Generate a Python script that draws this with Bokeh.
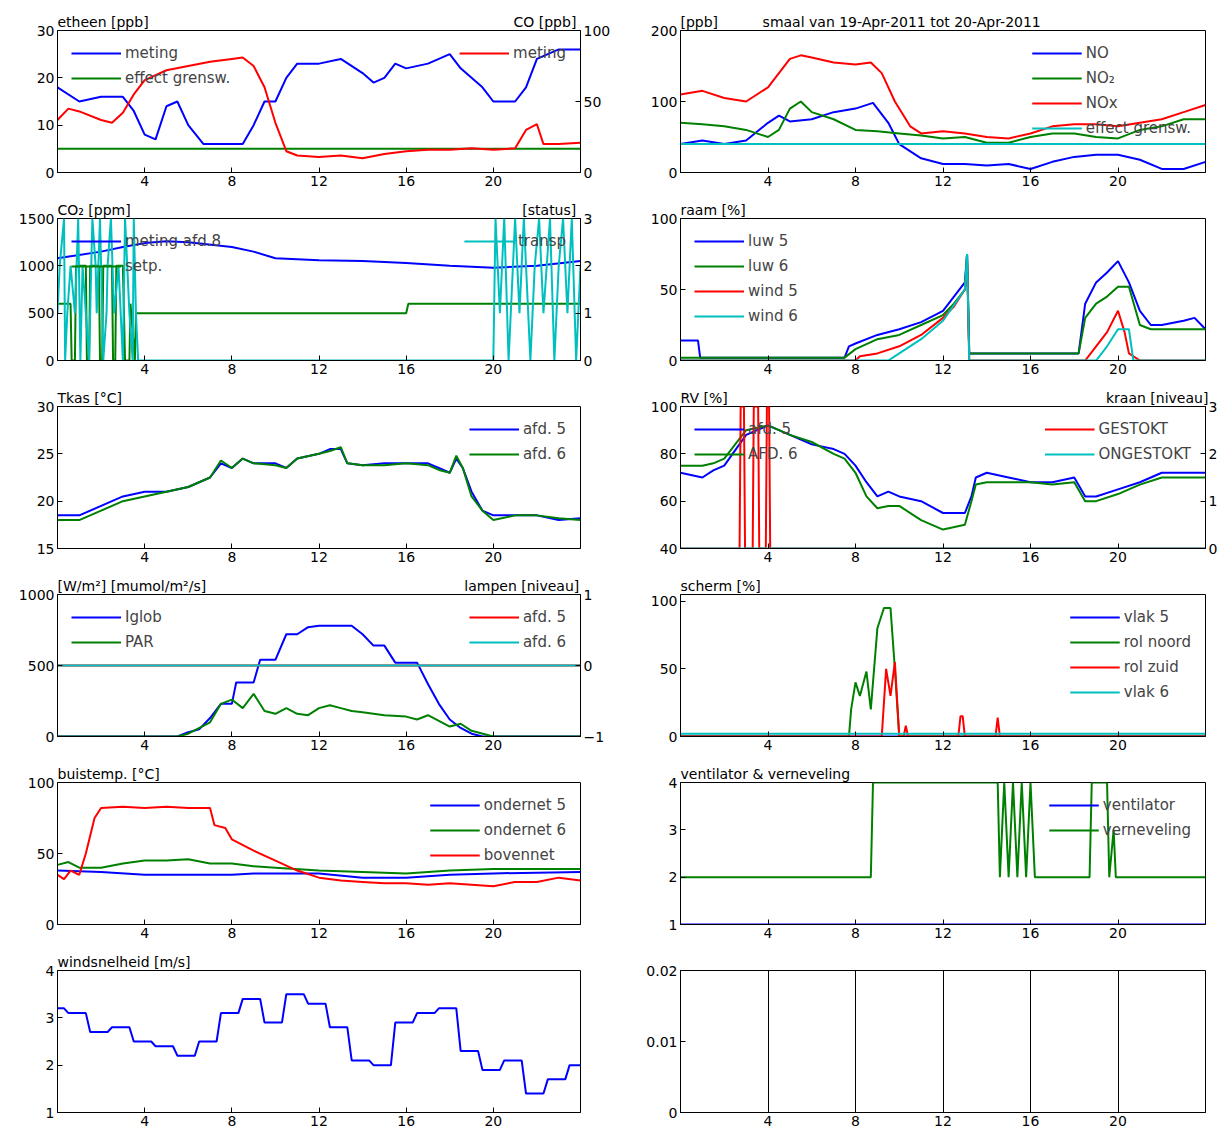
from bokeh.plotting import figure
from bokeh.models import (Range1d, LinearAxis, FixedTicker, Legend, LegendItem, Title)
from bokeh.layouts import gridplot
from bokeh.embed import file_html
from bokeh.resources import INLINE

FONT = "DejaVu Sans"
B, G, R, C = "#0000ff", "#008000", "#ff0000", "#00bfbf"

# ---------- data ----------
eth_t = [0, 1, 2, 3, 3.5, 4, 4.5, 5, 5.5, 6, 6.7, 8.5, 9, 9.5, 10, 10.5, 11, 12, 13, 14, 14.5, 15, 15.5, 16, 17, 18, 18.5, 19, 19.5, 20, 21, 21.5, 22, 23, 24]
eth_v = [18, 15, 16, 16, 13, 8, 7, 14, 15, 10, 6, 6, 10, 15, 15, 20, 23, 23, 24, 21, 19, 20, 23, 22, 23, 25, 22, 20, 18, 15, 15, 18, 24, 26, 26]
eth_lim = [5, 5]
co_t = [0, 0.5, 1, 2, 2.5, 3, 3.5, 4, 5, 6, 7, 8, 8.5, 9, 9.5, 10, 10.5, 11, 12, 13, 14, 15, 16, 17, 18, 19, 20, 21, 21.5, 22, 22.3, 23, 24]
co_v = [37, 45, 43, 37, 35, 42, 55, 65, 72, 75, 78, 80, 81, 75, 60, 35, 15, 12, 11, 12, 10, 13, 15, 16, 16, 17, 16, 17, 30, 34, 20, 20, 21]

no_t = [0, 1, 2, 3, 4, 4.5, 5, 6, 7, 8, 8.8, 9.5, 10, 11, 12, 13, 14, 15, 16, 17, 18, 19, 20, 21, 22, 23, 24]
no_v = [40, 45, 40, 45, 70, 80, 72, 75, 85, 90, 98, 70, 40, 20, 12, 12, 10, 12, 5, 15, 22, 25, 25, 18, 5, 5, 15]
no2_t = [0, 1, 2, 3, 4, 4.5, 5, 5.5, 6, 7, 8, 9, 10, 11, 12, 13, 14, 15, 16, 17, 18, 19, 20, 21, 22, 23, 24]
no2_v = [70, 68, 65, 60, 50, 60, 90, 100, 85, 75, 60, 58, 55, 52, 48, 50, 42, 42, 50, 55, 55, 50, 48, 60, 65, 75, 75]
nox_t = [0, 1, 2, 3, 4, 4.5, 5, 5.5, 6, 7, 8, 8.7, 9.2, 9.8, 10.5, 11, 12, 13, 14, 15, 16, 17, 18, 19, 20, 21, 22, 23, 24]
nox_v = [110, 115, 105, 100, 120, 140, 160, 165, 162, 155, 152, 155, 140, 100, 65, 55, 58, 55, 50, 48, 55, 65, 68, 68, 65, 70, 75, 85, 95]
no_lim = [40, 40]

co2_t = [0, 2, 3, 4, 5, 6, 8, 9, 10, 12, 14, 16, 18, 20, 22, 24]
co2_v = [1080, 1150, 1200, 1240, 1260, 1250, 1200, 1150, 1080, 1060, 1050, 1030, 1000, 980, 1000, 1050]
setp_t = [0, 0.6, 0.65, 0.8, 0.85, 1.3, 1.35, 1.45, 1.5, 1.9, 1.95, 2.05, 2.1, 2.5, 2.55, 2.65, 2.7, 3.0, 3.1, 3.3, 3.35, 3.55, 3.6, 16.0, 16.1, 24]
setp_v = [600, 600, 0, 0, 1000, 1000, 0, 0, 1000, 1000, 0, 0, 1000, 1000, 0, 0, 1000, 1000, 0, 0, 600, 0, 500, 500, 600, 600]
tr_t = [0, 0.1, 0.3, 0.35, 0.45, 0.6, 0.8, 0.95, 1.05, 1.15, 1.3, 1.45, 1.6, 1.75, 1.8, 1.95, 2.1, 2.25, 2.3, 2.45, 2.6, 2.8, 3.0, 3.1, 3.3, 3.45, 3.5, 3.6, 3.7,
        20.0, 20.1, 20.3, 20.5, 20.7, 20.9, 21.0, 21.2, 21.4, 21.7, 21.9, 22.1, 22.3, 22.6, 22.8, 23.0, 23.2, 23.4, 23.6, 23.8, 24]
tr_v = [1, 2, 3, 0, 1, 2, 1, 3, 0, 2, 1, 0, 3, 2, 1, 3, 0, 1, 2, 3, 1, 2, 0, 3, 1, 0, 3, 1, 0,
        0, 3, 1, 3, 0, 2, 3, 1, 3, 0, 2, 3, 1, 3, 0, 2, 3, 1, 3, 0, 2]

luw5_t = [0, 0.8, 0.9, 7.5, 7.7, 8, 9, 10, 11, 12, 12.5, 13, 13.1, 13.2, 18.2, 18.5, 19, 19.5, 20, 20.5, 21, 21.5, 22, 23, 23.5, 24]
luw5_v = [14, 14, 2, 2, 10, 12, 18, 22, 27, 35, 45, 55, 75, 5, 5, 40, 55, 62, 70, 55, 35, 25, 25, 28, 30, 22]
luw6_t = [0, 7.5, 8, 9, 10, 11, 12, 12.5, 13, 13.1, 13.2, 18.2, 18.5, 19, 19.5, 20, 20.5, 21, 21.5, 24]
luw6_v = [2, 2, 8, 15, 18, 25, 32, 40, 50, 75, 5, 5, 30, 40, 45, 52, 52, 25, 22, 22]
wind5_t = [0, 8, 8.2, 9, 10, 11, 12, 12.5, 13, 13.1, 13.2, 18.5, 19, 19.5, 20, 20.3, 20.5, 21, 24]
wind5_v = [0, 0, 3, 5, 10, 18, 30, 38, 50, 70, 0, 0, 10, 20, 35, 20, 5, 0, 0]
wind6_t = [0, 9.5, 10, 11, 12, 13, 13.1, 13.2, 19, 19.5, 20, 20.5, 20.7, 24]
wind6_v = [0, 0, 5, 15, 28, 50, 75, 0, 0, 10, 22, 22, 0, 0]

tk_t = [0, 1, 2, 3, 4, 5, 6, 7, 7.5, 8, 8.5, 9, 10, 10.5, 11, 12, 12.5, 13, 13.3, 14, 15, 16, 17, 17.5, 18, 18.3, 18.6, 19, 19.5, 20, 21, 22, 23, 24]
tk5_v = [18.5, 18.5, 19.5, 20.5, 21, 21, 21.5, 22.5, 24, 23.5, 24.5, 24, 24, 23.5, 24.5, 25, 25.5, 25.5, 24, 23.8, 24, 24, 24, 23.5, 23, 24.5, 23.5, 21, 19, 18.5, 18.5, 18.5, 18, 18.2]
tk6_v = [18, 18, 19, 20, 20.5, 21, 21.5, 22.5, 24.3, 23.5, 24.5, 24, 23.8, 23.5, 24.5, 25, 25.3, 25.7, 24, 23.8, 23.8, 24, 23.8, 23.3, 23, 24.8, 23.5, 20.5, 19, 18, 18.5, 18.5, 18.2, 18]

rv_t = [0, 1, 1.5, 2, 3, 4, 5, 6, 7, 7.5, 8, 8.5, 9, 9.5, 10, 11, 12, 13, 13.3, 13.5, 14, 15, 16, 17, 18, 18.5, 19, 20, 21, 22, 23, 24]
rv5_v = [72, 70, 73, 75, 88, 92, 88, 84, 82, 80, 75, 68, 62, 64, 62, 60, 55, 55, 62, 70, 72, 70, 68, 68, 70, 62, 62, 65, 68, 72, 72, 72]
rv6_v = [75, 75, 76, 78, 90, 92, 88, 85, 80, 78, 72, 62, 57, 58, 58, 52, 48, 50, 60, 67, 68, 68, 68, 67, 68, 60, 60, 63, 67, 70, 70, 70]
gest_t = [0, 2.7, 2.75, 2.9, 2.95, 3.3, 3.35, 3.55, 3.6, 3.9, 3.95, 4.05, 4.1, 24]
gest_v = [0, 0, 3, 3, 0, 0, 3, 3, 0, 0, 3, 3, 0, 0]
onge_v = [0, 0]

ig_t = [0, 5.5, 6, 6.5, 7, 7.5, 8, 8.2, 9, 9.3, 10, 10.5, 11, 11.5, 12, 13.5, 14, 14.5, 15, 15.5, 16.5, 17, 17.5, 18, 18.5, 19, 19.5, 24]
ig_v = [0, 0, 30, 50, 130, 230, 230, 380, 380, 540, 540, 720, 720, 770, 780, 780, 720, 640, 640, 520, 520, 370, 230, 120, 60, 20, 0, 0]
par_t = [0, 5.5, 6, 7, 7.5, 8, 8.5, 9, 9.5, 10, 10.5, 11, 11.5, 12, 12.5, 13, 13.5, 14, 15, 16, 16.5, 17, 18, 18.5, 19, 20, 24]
par_v = [0, 0, 20, 100, 230, 260, 200, 300, 180, 160, 200, 160, 150, 200, 220, 200, 180, 170, 150, 140, 120, 150, 70, 90, 40, 0, 0]
lamp_v = [0, 0]

noord_t = [0, 7.7, 7.8, 8, 8.2, 8.5, 8.7, 9, 9.3, 9.6, 9.8, 10, 24]
noord_v = [0, 0, 20, 40, 30, 48, 20, 80, 95, 95, 50, 0, 0]
zuid_t = [0, 9.2, 9.4, 9.6, 9.8, 10, 10.2, 10.3, 10.4, 12.7, 12.8, 12.9, 13, 14.4, 14.5, 14.6, 24]
zuid_v = [0, 0, 50, 30, 55, 0, 0, 8, 0, 0, 15, 15, 0, 0, 14, 0, 0]
vlak5_v = [0, 0]
vlak6_v = [2, 2]

bu_t = [0, 0.3, 0.6, 1, 1.3, 1.7, 2, 3, 4, 5, 6, 7, 7.2, 7.7, 8, 9, 10, 11, 12, 13, 14, 15, 16, 17, 18, 19, 20, 21, 22, 23, 24]
bov_v = [35, 32, 38, 35, 50, 75, 82, 83, 82, 83, 82, 82, 70, 68, 60, 52, 45, 38, 33, 31, 30, 29, 29, 28, 29, 28, 27, 30, 30, 33, 31]
on5_t = [0, 2, 4, 8, 9, 12, 14, 16, 18, 20, 24]
on5_v = [38, 37, 35, 35, 36, 36, 33, 33, 35, 36, 37]
on6_t = [0, 0.5, 1, 2, 3, 4, 5, 6, 7, 8, 9, 10, 12, 14, 16, 18, 20, 24]
on6_v = [42, 44, 40, 40, 43, 45, 45, 46, 43, 43, 41, 40, 38, 37, 36, 38, 39, 39]

vent_v = [1, 1]
vern_t = [0, 8.7, 8.8, 14.5, 14.6, 14.8, 15, 15.2, 15.4, 15.6, 15.8, 16, 16.2, 18.7, 18.8, 19.5, 19.6, 19.8, 19.9, 24]
vern_v = [2, 2, 4, 4, 2, 4, 2, 4, 2, 4, 2, 4, 2, 2, 4, 4, 2, 3, 2, 2]

ws_t = [0, 0.3, 0.5, 1.3, 1.5, 2.3, 2.5, 3.3, 3.5, 4.3, 4.5, 5.3, 5.5, 6.3, 6.5, 7.3, 7.5, 8.3, 8.5, 9.3, 9.5, 10.3, 10.5, 11.3, 11.5, 12.3, 12.5, 13.3, 13.5, 14.3, 14.5, 15.3, 15.5, 16.3, 16.5, 17.3, 17.5, 18.3, 18.5, 19.3, 19.5, 20.3, 20.5, 21.3, 21.5, 22.3, 22.5, 23.3, 23.5, 24]
ws_v = [3.2, 3.2, 3.1, 3.1, 2.7, 2.7, 2.8, 2.8, 2.5, 2.5, 2.4, 2.4, 2.2, 2.2, 2.5, 2.5, 3.1, 3.1, 3.4, 3.4, 2.9, 2.9, 3.5, 3.5, 3.3, 3.3, 2.8, 2.8, 2.1, 2.1, 2.0, 2.0, 2.9, 2.9, 3.1, 3.1, 3.2, 3.2, 2.3, 2.3, 1.9, 1.9, 2.1, 2.1, 1.4, 1.4, 1.7, 1.7, 2.0, 2.0]

XT = [4, 8, 12, 16, 20]
FULL = [0, 24]

# approximate DejaVu Sans advance widths (em)
CW = {' ': .318, '[': .39, ']': .39, 'a': .613, 'b': .635, 'c': .55, 'd': .635, 'e': .615, 'f': .352,
      'g': .635, 'h': .634, 'i': .278, 'k': .579, 'l': .278, 'm': .974, 'n': .634, 'o': .612,
      'p': .635, 'r': .411, 's': .521, 't': .392, 'u': .634, 'v': .592, 'w': .818, 'C': .698,
      'O': .787, '.': .318, '/': .337, '²': .401, '₂': .401, '°': .5, 'T': .611, 'W': .989,
      'R': .695, 'V': .684, 'S': .635}


def tw(s):
    return sum(CW.get(ch, .636) for ch in s) * 14


def pad_title(left, right, width):
    n = max(1, int(round((width - tw(left) - tw(right)) / (0.318 * 14))))
    return left + "\u00a0" * n + right


def style_axis(ax):
    ax.major_tick_in = 5
    ax.major_tick_out = 0
    ax.minor_tick_line_color = None
    ax.axis_line_color = "black"
    ax.major_label_text_font = FONT
    ax.major_label_text_font_size = "14px"
    ax.major_label_text_color = "black"
    ax.major_label_standoff = 3


def make(col, rowi, yr, yticks, left_t, right_t=None, right=None, rticks=None):
    top = 30 if rowi == 0 else 22
    fw = 523 if col == 0 else 525
    if col == 0:
        p = figure(frame_width=fw, frame_height=142, min_border_left=57, min_border_right=36,
                   min_border_top=top, min_border_bottom=24, output_backend="svg", toolbar_location=None,
                   x_range=Range1d(0, 24), y_range=Range1d(*yr))
    else:
        p = figure(frame_width=fw, frame_height=142, min_border_left=64, min_border_right=14,
                   min_border_top=top, min_border_bottom=24, output_backend="svg", toolbar_location=None,
                   x_range=Range1d(0, 24), y_range=Range1d(*yr))
    p.xgrid.visible = False
    p.ygrid.visible = False
    p.outline_line_color = "black"
    p.outline_line_alpha = 1
    p.xaxis.ticker = FixedTicker(ticks=XT)
    p.yaxis.ticker = FixedTicker(ticks=yticks)
    for ax in p.xaxis + p.yaxis:
        style_axis(ax)
    if right is not None:
        p.extra_y_ranges = {"r": Range1d(*right)}
        ax = LinearAxis(y_range_name="r", ticker=FixedTicker(ticks=rticks))
        style_axis(ax)
        p.add_layout(ax, "right")
    if left_t:
        txt = pad_title(left_t, right_t, fw - 2) if right_t else left_t
        p.title = Title(text=txt, align="left", text_font=FONT, text_font_size="14px",
                        text_font_style="normal", text_color="black", standoff=1)
    return p


def legend(p, items, loc):
    lg = Legend(items=[LegendItem(label=l, renderers=[r]) for l, r in items], location=loc,
                background_fill_alpha=0, border_line_alpha=0, label_text_font=FONT,
                label_text_font_size="15px", glyph_width=50, glyph_height=18, label_standoff=4,
                spacing=7, margin=6, padding=8, label_height=18)
    p.add_layout(lg)


def ln(p, x, y, c, rng=None):
    if rng:
        return p.line(x, y, line_color=c, line_width=2, y_range_name=rng)
    return p.line(x, y, line_color=c, line_width=2)


p1 = make(0, 0, (0, 30), [0, 10, 20, 30], "etheen [ppb]", "CO [ppb]", (0, 100), [0, 50, 100])
a = ln(p1, eth_t, eth_v, B); b = ln(p1, FULL, eth_lim, G); c = ln(p1, co_t, co_v, R, "r")
legend(p1, [("meting", a), ("effect grensw.", b)], "top_left")
legend(p1, [("meting", c)], "top_right")

p2 = make(1, 0, (0, 200), [0, 100, 200], "[ppb]" + "\u00a0" * 10 + "smaal van 19-Apr-2011 tot 20-Apr-2011")
a = ln(p2, no_t, no_v, B); b = ln(p2, no2_t, no2_v, G); c = ln(p2, nox_t, nox_v, R); d = ln(p2, FULL, no_lim, C)
legend(p2, [("NO", a), ("NO₂", b), ("NOx", c), ("effect grensw.", d)], "top_right")

p3 = make(0, 1, (0, 1500), [0, 500, 1000, 1500], "CO₂ [ppm]", "[status]", (0, 3), [0, 1, 2, 3])
a = ln(p3, co2_t, co2_v, B); b = ln(p3, setp_t, setp_v, G); c = ln(p3, tr_t, tr_v, C, "r")
legend(p3, [("meting afd.8", a), ("setp.", b)], "top_left")
legend(p3, [("transp", c)], "top_right")

p4 = make(1, 1, (0, 100), [0, 50, 100], "raam [%]")
a = ln(p4, luw5_t, luw5_v, B); b = ln(p4, luw6_t, luw6_v, G); c = ln(p4, wind5_t, wind5_v, R); d = ln(p4, wind6_t, wind6_v, C)
legend(p4, [("luw 5", a), ("luw 6", b), ("wind 5", c), ("wind 6", d)], "top_left")

p5 = make(0, 2, (15, 30), [15, 20, 25, 30], "Tkas [°C]")
a = ln(p5, tk_t, tk5_v, B); b = ln(p5, tk_t, tk6_v, G)
legend(p5, [("afd. 5", a), ("afd. 6", b)], "top_right")

p6 = make(1, 2, (40, 100), [40, 60, 80, 100], "RV [%]", "kraan [niveau]", (0, 3), [0, 1, 2, 3])
a = ln(p6, rv_t, rv5_v, B); b = ln(p6, rv_t, rv6_v, G); c = ln(p6, gest_t, gest_v, R, "r"); d = ln(p6, FULL, onge_v, C, "r")
legend(p6, [("afd. 5", a), ("AFD. 6", b)], "top_left")
legend(p6, [("GESTOKT", c), ("ONGESTOKT", d)], "top_right")

p7 = make(0, 3, (0, 1000), [0, 500, 1000], "[W/m²] [mumol/m²/s]", "lampen [niveau]", (-1, 1), [-1, 0, 1])
a = ln(p7, ig_t, ig_v, B); b = ln(p7, par_t, par_v, G); c = ln(p7, FULL, lamp_v, R, "r"); d = ln(p7, FULL, lamp_v, C, "r")
legend(p7, [("Iglob", a), ("PAR", b)], "top_left")
legend(p7, [("afd. 5", c), ("afd. 6", d)], "top_right")

p8 = make(1, 3, (0, 105), [0, 50, 100], "scherm [%]")
a = ln(p8, FULL, vlak5_v, B); b = ln(p8, noord_t, noord_v, G); c = ln(p8, zuid_t, zuid_v, R); d = ln(p8, FULL, vlak6_v, C)
legend(p8, [("vlak 5", a), ("rol noord", b), ("rol zuid", c), ("vlak 6", d)], "top_right")

p9 = make(0, 4, (0, 100), [0, 50, 100], "buistemp. [°C]")
a = ln(p9, on5_t, on5_v, B); b = ln(p9, on6_t, on6_v, G); c = ln(p9, bu_t, bov_v, R)
legend(p9, [("ondernet 5", a), ("ondernet 6", b), ("bovennet", c)], "top_right")

p10 = make(1, 4, (1, 4), [1, 2, 3, 4], "ventilator & verneveling")
a = ln(p10, FULL, vent_v, B); b = ln(p10, vern_t, vern_v, G)
legend(p10, [("ventilator", a), ("verneveling", b)], "top_right")

p11 = make(0, 5, (1, 4), [1, 2, 3, 4], "windsnelheid [m/s]")
ln(p11, ws_t, ws_v, B)

p12 = make(1, 5, (0, 0.02), [0, 0.01, 0.02], None)
p12.xgrid.visible = True
p12.xgrid.grid_line_color = "black"
p12.xgrid.grid_line_alpha = 1
p12.xgrid.ticker = FixedTicker(ticks=XT)

grid = gridplot([[p1, p2], [p3, p4], [p5, p6], [p7, p8], [p9, p10], [p11, p12]], toolbar_location=None)
open("out.html", "w").write(file_html(grid, INLINE))
